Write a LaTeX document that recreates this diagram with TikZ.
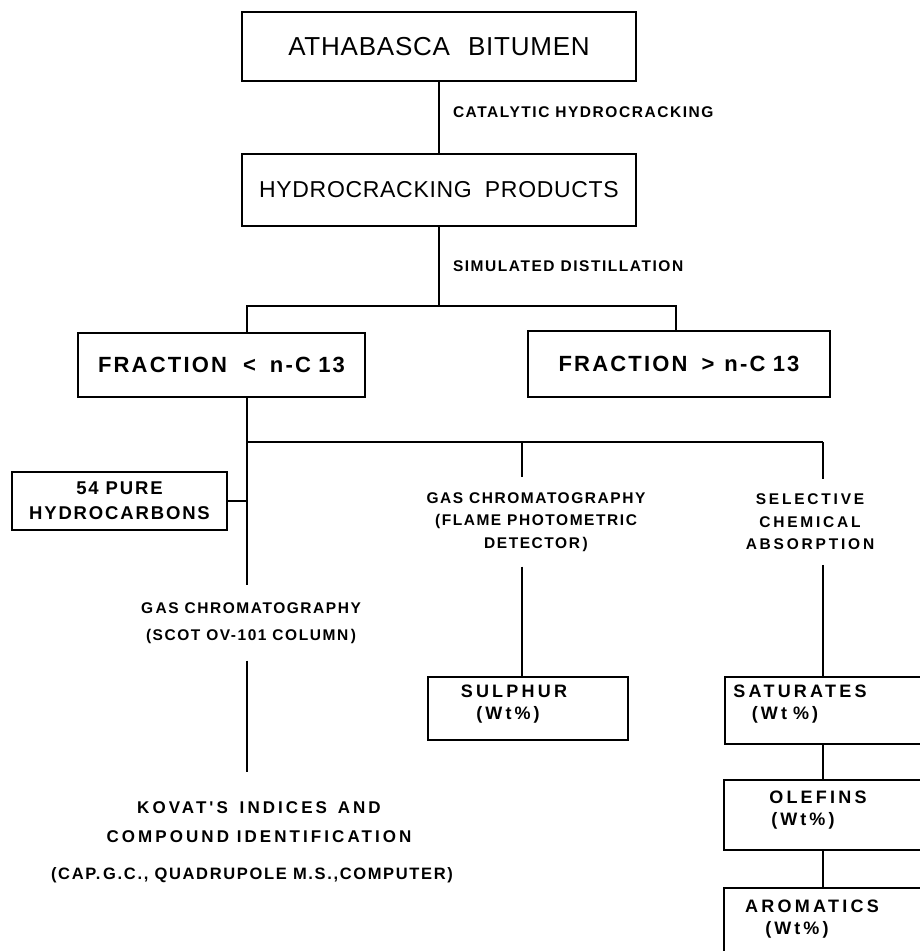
\documentclass[tikz,border=0pt]{standalone}
\usepackage{fontspec}
\setmainfont{Liberation Sans}
\newfontfamily\fA{Liberation Sans}[LetterSpace=3]
\newfontfamily\fB{Liberation Sans}[LetterSpace=10]
\newfontfamily\fC{Liberation Sans}[LetterSpace=18]
\begin{document}
\begin{tikzpicture}[x=1pt,y=-1pt,
  line width=2pt,
  boxnode/.style={draw, line width=2pt, inner sep=0pt, align=center},
  bigtext/.style={font=\fA\fontsize{25}{30}\selectfont},
  fractext/.style={font=\fB\bfseries\fontsize{22}{25}\selectfont},
  smalltext/.style={font=\fB\bfseries\fontsize{15.5}{22.5}\selectfont, align=center, inner sep=0pt},
  widetext/.style={font=\fC\bfseries\fontsize{15.5}{22.5}\selectfont, align=center, inner sep=0pt},
  boxtext/.style={font=\fC\bfseries\fontsize{18}{22.5}\selectfont, align=center, inner sep=0pt}
]
\useasboundingbox (0,0) rectangle (920,951);
\clip (0,0) rectangle (920,951);

% boxes
\node[boxnode, bigtext, font=\fA\fontsize{26}{30}\selectfont, minimum width=394, minimum height=69] (bit) at (439,46.5) {ATHABASCA\hspace{10pt} BITUMEN};
\node[boxnode, bigtext, font=\fA\fontsize{23}{30}\selectfont, minimum width=394, minimum height=72] (hyd) at (439,190) {HYDROCRACKING\hspace{6pt} PRODUCTS};
\node[boxnode, fractext, minimum width=287, minimum height=64] (fl) at (221.5,365) {FRACTION\hspace{16pt}<\hspace{14pt}n-C\,\,13};
\node[boxnode, fractext, minimum width=302, minimum height=66] (fg) at (679,364) {FRACTION\hspace{14pt}>\hspace{10pt}n-C\,\,13};
\node[boxnode, font=\fB\bfseries\fontsize{18.5}{25}\selectfont, minimum width=215, minimum height=58] (pure) at (119.5,501) {54 PURE\\HYDROCARBONS};

\node[boxnode, minimum width=200, minimum height=63] (sul) at (528,708.5) {};
\node[boxnode, minimum width=215, minimum height=67] (sat) at (832.5,710.5) {};
\node[boxnode, minimum width=216, minimum height=70] (ole) at (832,815) {};
\node[boxnode, minimum width=216, minimum height=112] (aro) at (832,944) {};

\node[boxtext] (sulT) at (514,704) {SULPHUR\\\hspace*{-12pt}(\,Wt\,\%\,)};
\node[boxtext] (satT) at (800,704) {SATURATES\\\hspace*{-30pt}(\,Wt\,\,\%\,)};
\node[boxtext] (oleT) at (818,810) {OLEFINS\\\hspace*{-30pt}(\,Wt\,\%)};
\node[boxtext] (aroT) at (812,919) {AROMATICS\\\hspace*{-30pt}(\,Wt\,\%)};

% labels
\node[smalltext, anchor=west] (cat) at (452,112) {CATALYTIC HYDROCRACKING};
\node[smalltext, anchor=west] (sim) at (452,266) {SIMULATED DISTILLATION};
\node[smalltext, inner ysep=14pt] (gcM) at (536,522) {GAS CHROMATOGRAPHY\\(FLAME PHOTOMETRIC\\DETECTOR\,)};
\node[widetext, inner ysep=14pt] (sca) at (810,522) {SELECTIVE\\CHEMICAL\\ABSORPTION};
\node[smalltext, font=\fB\bfseries\fontsize{15.5}{27}\selectfont, inner ysep=16pt] (gcL) at (251,623) {G\,AS CHROMATOGRAPHY\\(SCOT OV-101 COLUMN\,)};
\node[widetext, font=\fC\bfseries\fontsize{17}{29}\selectfont, inner ysep=28pt, inner xsep=0pt] (kov) at (259,822) {KOVAT'S\hspace{4pt} INDICES\hspace{3pt} AND\\COMPOUND IDENTIFICATION};
\node[smalltext, font=\fB\bfseries\fontsize{16.5}{22}\selectfont] (capl) at (252,875) {(CAP.\,G.C., QUADRUPOLE M.S.,COMPUTER)};

% junction coordinates
\coordinate (ja) at (247,306);
\coordinate (jb) at (676,306);
\coordinate (jc) at (247,442);
\coordinate (jm) at (522,442);
\coordinate (jr) at (823,442);

% connectors
\draw (bit.south) -- (hyd.north);
\draw (hyd.south) -- (hyd.south |- ja);
\draw (ja |- fl.north) |- (jb) -- (jb |- fg.north);
\draw (ja |- fl.south) -- (gcL.north -| ja);
\draw (pure.east) -- (pure.east -| ja);
\draw (jc) -- (jr);
\draw (jm) -- (gcM.north -| jm);
\draw (jr) -- (sca.north -| jr);
\draw (gcM.south -| jm) -- (sul.north -| jm);
\draw (sca.south -| jr) -- (sat.north -| jr);
\draw (sat.south -| jr) -- (ole.north -| jr);
\draw (ole.south -| jr) -- (aro.north -| jr);
\draw (gcL.south -| ja) -- (kov.north -| ja);
\end{tikzpicture}
\end{document}
